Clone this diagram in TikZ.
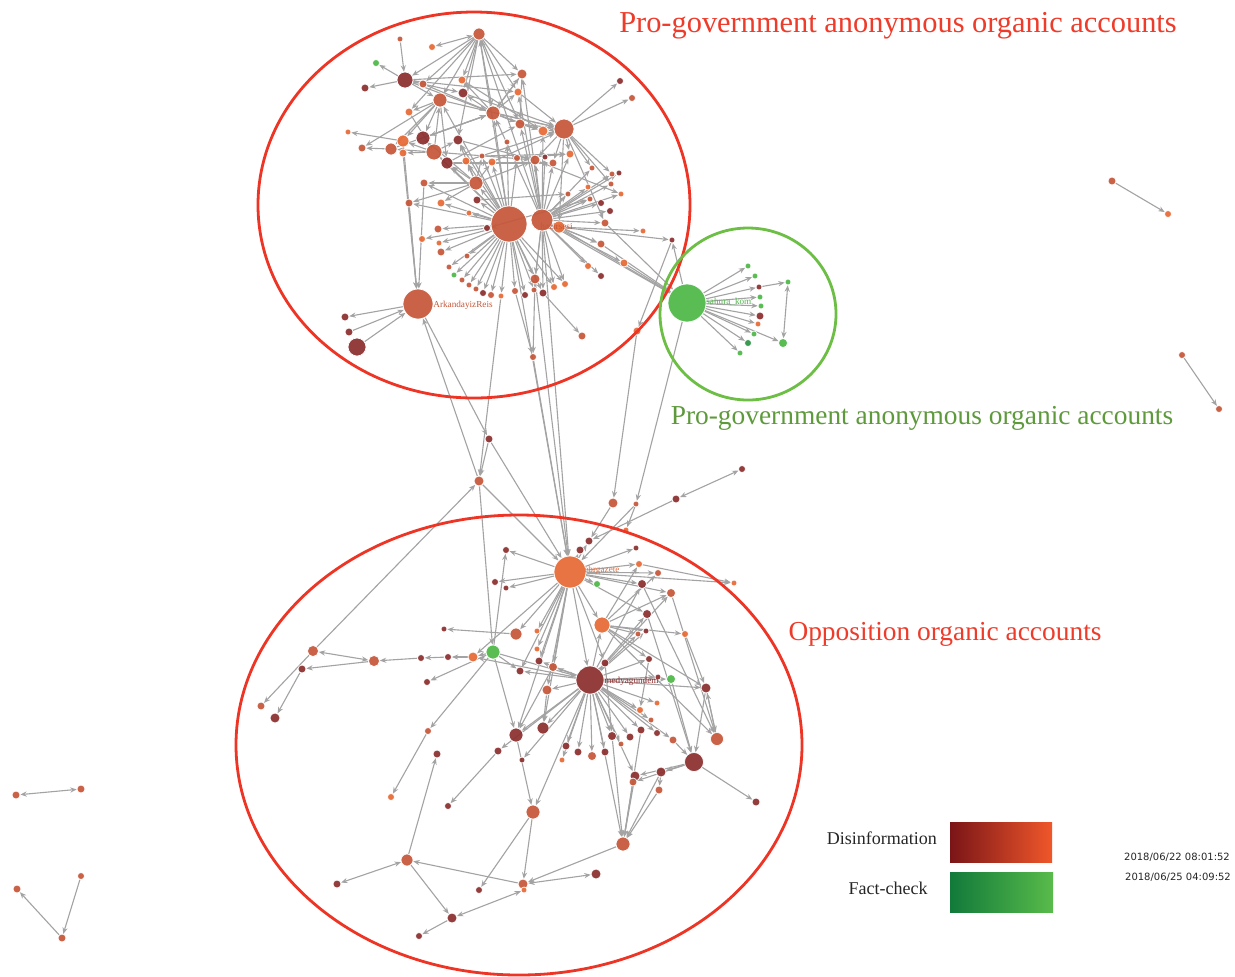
\documentclass[tikz,border=0pt]{standalone}
\usepackage{fontspec}
\setmainfont{Liberation Serif}
\newfontfamily\tsfont{DejaVu Sans}
\usetikzlibrary{arrows.meta}
\definecolor{cDark}{HTML}{8C2F2F}
\definecolor{cMid}{HTML}{C5573A}
\definecolor{cOr}{HTML}{E86A35}
\definecolor{cGr}{HTML}{4DB848}
\definecolor{cDG}{HTML}{2E9447}
\definecolor{cEdge}{HTML}{A3A3A3}
\definecolor{cRed}{HTML}{EE3424}
\definecolor{cGreenL}{HTML}{6DBE45}
\definecolor{cTitleR}{HTML}{EE3B2A}
\definecolor{cTitleG}{HTML}{5E9A3C}
\definecolor{dA}{HTML}{7A1517}
\definecolor{dB}{HTML}{C62F28}
\definecolor{dC}{HTML}{F0572A}
\definecolor{fA}{HTML}{117A3A}
\definecolor{fB}{HTML}{22B14C}
\definecolor{fC}{HTML}{58BB4A}
\pgfdeclarelayer{back}
\pgfdeclarelayer{edges}
\pgfsetlayers{back,edges,main}
\tikzset{
 nd/.style={circle, draw=white, line width=0.35pt, inner sep=0pt, fill opacity=0.93},
 dk/.style={nd, fill=cDark}, md/.style={nd, fill=cMid}, og/.style={nd, fill=cOr},
 gr/.style={nd, fill=cGr}, dg/.style={nd, fill=cDG},
 edge/.style={draw=cEdge, line width=0.55pt, -{Stealth[length=3.2pt,width=2.6pt]}},
 biedge/.style={draw=cEdge, line width=0.55pt, {Stealth[length=3.2pt,width=2.6pt]}-{Stealth[length=3.2pt,width=2.6pt]}},
 nlab/.style={anchor=west, font=\fontsize{4.6}{5}\selectfont, inner sep=0pt},
 title/.style={font=\fontsize{15.2}{17}\selectfont},
 subtitle/.style={font=\fontsize{13.7}{15}\selectfont},
}
\newcommand\gn[5]{\node[#5, minimum size=#4pt] (#1) at (#2,#3) {};}
\begin{document}
\begin{tikzpicture}[x=0.5pt,y=-0.5pt]
\useasboundingbox (0,0) rectangle (1235,976);
\begin{pgfonlayer}{back}
\fill[white] (0,0) rectangle (1235,976);
\end{pgfonlayer}
% ---------- top cluster nodes
\gn{t1}{479}{34}{6}{md}
\gn{t2}{400}{39}{3}{md}
\gn{t3}{432}{47}{3.5}{og}
\gn{t4}{376}{63}{3.5}{gr}
\gn{t5}{405}{80}{8}{dk}
\gn{t6}{423}{84}{4}{md}
\gn{t7}{462}{80}{4}{og}
\gn{t8}{522}{74}{5}{md}
\gn{t9}{365}{88}{4}{dk}
\gn{t10}{440}{100}{7}{md}
\gn{t11}{463}{93}{5}{dk}
\gn{t12}{518}{92}{4}{og}
\gn{t13}{493}{113}{7}{md}
\gn{t14}{409}{112}{4}{og}
\gn{t15}{520}{124}{5}{md}
\gn{t16}{543}{131}{5}{og}
\gn{t17}{564}{129}{10}{md}
\gn{t18}{348}{132}{3}{og}
\gn{t19}{403}{141}{6}{og}
\gn{t20}{423}{138}{7}{dk}
\gn{t21}{458}{140}{5}{dk}
\gn{t22}{362}{148}{4}{md}
\gn{t23}{391}{149}{6}{md}
\gn{t24}{403}{153}{4}{og}
\gn{t25}{434}{152}{8}{md}
\gn{t26}{447}{163}{6}{dk}
\gn{t27}{482}{156}{3}{md}
\gn{t28}{507}{142}{3}{md}
\gn{t29}{517}{158}{3.5}{md}
\gn{t30}{535}{160}{5}{md}
\gn{t31}{545}{157}{3}{dk}
\gn{t32}{553}{163}{4}{md}
\gn{t33}{466}{161}{4}{og}
\gn{t34}{492}{162}{4}{og}
\gn{t35}{476}{183}{7}{md}
\gn{t36}{570}{154}{4}{og}
\gn{t37}{592}{168}{3}{md}
\gn{t38}{612}{174}{3}{md}
\gn{t39}{619}{173}{3}{dk}
\gn{t40}{611}{184}{3}{md}
\gn{t41}{621}{194}{3}{og}
\gn{t42}{424}{183}{4}{md}
\gn{t43}{409}{203}{4}{md}
\gn{t44}{441}{203}{4}{og}
\gn{t45}{477}{200}{4}{dk}
\gn{t46}{469}{213}{3}{og}
\gn{t47}{588}{187}{3}{og}
\gn{t48}{568}{194}{3}{md}
\gn{t49}{590}{199}{3}{md}
\gn{t50}{601}{203}{3.5}{dk}
\gn{t51}{610}{211}{3.5}{dk}
\gn{tH}{509}{224}{18}{md}
\gn{tH2}{542}{220}{11}{md}
\gn{t52}{559}{227}{6}{og}
\gn{t53}{487}{228}{3.5}{dk}
\gn{t54}{438}{229}{4}{md}
\gn{t55}{422}{239}{3.5}{og}
\gn{t56}{439}{243}{3}{og}
\gn{t57}{441}{252}{4}{md}
\gn{t58}{605}{223}{4}{md}
\gn{t59}{643}{231}{3}{og}
\gn{t60}{672}{240}{3}{dk}
\gn{t61}{601}{244}{4}{md}
\gn{t62}{467}{256}{3}{md}
\gn{t63}{449}{267}{3}{md}
\gn{t64}{454}{275}{3}{gr}
\gn{t65}{462}{280}{3}{md}
\gn{t66}{469}{285}{3}{md}
\gn{t67}{476}{289}{3}{md}
\gn{t68}{483}{293}{3.5}{dk}
\gn{t69}{491}{295}{3.5}{md}
\gn{t70}{501}{296}{3}{og}
\gn{t71}{515}{291}{3.5}{md}
\gn{t72}{525}{295}{3.5}{dk}
\gn{t73}{534}{290}{3}{md}
\gn{t74}{543}{293}{4}{dk}
\gn{t75}{554}{287}{3.5}{og}
\gn{t76}{565}{284}{3.5}{og}
\gn{t77}{535}{279}{5}{md}
\gn{t78}{588}{266}{3.5}{og}
\gn{t79}{601}{276}{3.5}{dk}
\gn{t80}{624}{263}{4}{og}
\gn{tA}{418}{304}{15}{md}
\gn{t81}{345}{317}{4}{dk}
\gn{t82}{349}{332}{4}{dk}
\gn{t83}{357}{347}{9}{dk}
\gn{t84}{533}{357}{3.5}{md}
\gn{t85}{582}{336}{4}{md}
\gn{t86}{637}{331}{4}{og}
\gn{t87}{620}{81}{3.5}{dk}
\gn{t88}{632}{98}{3.5}{md}
% ---------- green cluster
\gn{gG}{687}{303}{19}{gr}
\gn{g1}{748}{266}{3}{gr}
\gn{g2}{755}{276}{3}{gr}
\gn{g3}{759}{287}{3}{dk}
\gn{g4}{788}{282}{3}{gr}
\gn{g5}{760}{297}{3}{gr}
\gn{g6}{761}{306}{3}{gr}
\gn{g7}{760}{316}{4}{dk}
\gn{g8}{758}{324}{3}{og}
\gn{g9}{754}{334}{3}{gr}
\gn{g10}{748}{343}{3.5}{dg}
\gn{g11}{740}{353}{3}{gr}
\gn{g12}{783}{343}{4.5}{gr}
% ---------- bottom cluster
\gn{b1}{489}{439}{4}{dk}
\gn{b2}{479}{481}{5}{md}
\gn{b3}{742}{469}{3.5}{dk}
\gn{b4}{613}{503}{5}{md}
\gn{b5}{636}{504}{3}{md}
\gn{b6}{676}{499}{4}{dk}
\gn{b7}{626}{530}{3}{og}
\gn{b8}{589}{541}{4}{dk}
\gn{b9}{506}{550}{3.5}{dk}
\gn{b10}{580}{550}{4}{dk}
\gn{b11}{636}{548}{3}{dk}
\gn{bH}{570}{572}{16}{og}
\gn{b12}{639}{564}{3.5}{og}
\gn{b13}{658}{573}{3.5}{md}
\gn{b14}{734}{583}{3}{og}
\gn{b15}{495}{582}{3.5}{dk}
\gn{b16}{506}{588}{3}{dk}
\gn{b17}{597}{584}{3.5}{gr}
\gn{b18}{642}{584}{4.5}{dk}
\gn{b19}{671}{593}{4.5}{md}
\gn{b20}{647}{614}{4.5}{dk}
\gn{b21}{602}{625}{8}{og}
\gn{b22}{444}{629}{3}{dk}
\gn{b23}{516}{634}{6}{md}
\gn{b24}{537}{631}{3}{og}
\gn{b25}{638}{634}{3}{md}
\gn{b26}{646}{631}{3}{dk}
\gn{b27}{685}{634}{3.5}{og}
\gn{b28}{537}{649}{3}{og}
\gn{bG}{493}{652}{7}{gr}
\gn{b29}{473}{657}{5}{og}
\gn{b30}{448}{657}{3.5}{dk}
\gn{b31}{421}{658}{3.5}{dk}
\gn{b32}{374}{661}{5.5}{md}
\gn{b33}{313}{651}{5.5}{md}
\gn{b34}{302}{669}{4}{dk}
\gn{b35}{261}{706}{4}{md}
\gn{b36}{275}{718}{5}{dk}
\gn{b37}{539}{661}{4}{dk}
\gn{b38}{553}{667}{4.5}{md}
\gn{b39}{520}{671}{4}{dk}
\gn{b40}{605}{663}{4}{dk}
\gn{b41}{649}{659}{3.5}{dk}
\gn{bD}{590}{680}{14}{dk}
\gn{b42}{658}{677}{3}{dk}
\gn{b43}{671}{679}{4.5}{gr}
\gn{b44}{706}{688}{5}{dk}
\gn{b45}{427}{682}{3.5}{dk}
\gn{b46}{547}{690}{5}{md}
\gn{b47}{640}{710}{3.5}{og}
\gn{b48}{657}{703}{3}{og}
\gn{b49}{651}{720}{3}{md}
\gn{b50}{428}{731}{3.5}{md}
\gn{b51}{516}{735}{7}{dk}
\gn{b52}{543}{728}{6}{dk}
\gn{b53}{612}{736}{4.5}{dk}
\gn{b54}{630}{737}{4}{dk}
\gn{b55}{641}{730}{4}{dk}
\gn{b56}{657}{733}{3.5}{dk}
\gn{b57}{673}{740}{4}{md}
\gn{b58}{717}{739}{6.5}{md}
\gn{b59}{566}{746}{4}{dk}
\gn{b60}{578}{752}{4}{dk}
\gn{b61}{592}{756}{4.5}{md}
\gn{b62}{605}{752}{4}{dk}
\gn{b63}{621}{744}{3}{md}
\gn{b64}{498}{751}{4}{dk}
\gn{b65}{437}{754}{4}{dk}
\gn{b66}{522}{760}{3}{dk}
\gn{b67}{562}{760}{3}{og}
\gn{b68}{635}{776}{5}{dk}
\gn{b69}{633}{782}{4}{md}
\gn{b70}{661}{772}{5}{dk}
\gn{b71}{659}{790}{4}{md}
\gn{b72}{694}{762}{9.5}{dk}
\gn{b73}{756}{802}{4}{dk}
\gn{b74}{391}{797}{3.5}{og}
\gn{b75}{448}{806}{3.5}{dk}
\gn{b76}{533}{812}{7}{md}
\gn{b77}{623}{844}{7}{md}
\gn{b78}{407}{860}{6}{md}
\gn{b79}{337}{884}{4}{dk}
\gn{b80}{523}{884}{5}{md}
\gn{b81}{596}{874}{5}{dk}
\gn{b82}{479}{890}{3.5}{dk}
\gn{b83}{524}{890}{3}{og}
\gn{b84}{452}{918}{5}{dk}
\gn{b85}{419}{936}{3.5}{dk}
% ---------- isolated pairs
\gn{i1}{1112}{181}{4}{md}
\gn{i2}{1168}{214}{3.5}{og}
\gn{i3}{1182}{355}{3.5}{md}
\gn{i4}{1219}{409}{3.5}{md}
\gn{i5}{16}{795}{4}{md}
\gn{i6}{81}{789}{4}{md}
\gn{i7}{17}{889}{4}{md}
\gn{i8}{62}{938}{4}{md}
\gn{i9}{81}{876}{3.5}{md}
% ---------- node labels
\node[nlab, text=cMid] (lA) at (433,305) {ArkandayizReis};
\node[nlab, text=cMid] (lH) at (540,226) {hazirsesi};
\node[nlab, text=cGr] (lG) at (706,302) {sahura\_kom};
\node[nlab, text=cOr] (lB) at (584,570) {ebrgazete};
\node[nlab, text=cDark] (lD) at (604,681) {medyagundem};
% ---------- edges
\begin{pgfonlayer}{edges}
\foreach \q in {t62,t63,t64,t65,t66,t67,t68,t69,t70,t71,t72,t73,t74,t75,t76,t77,t57,t56,t55,t54,t53,t46,t44,t43,t42,t45,t35,t13,t25,t29,t28,t27,t34,t33,t26,t21,t10,t1}
  \draw[edge] (tH) -- (\q);
\foreach \q in {t36,t37,t38,t39,t40,t41,t47,t48,t49,t50,t51,t58,t61,t78,t79,t80,t30,t32,t16,t15,t31,t77,t73,t74,t75,t76,t12,t8,t1,t13}
  \draw[edge] (tH2) -- (\q);
\foreach \q in {t87,t88,t16,t37,t38,t58,t52,t30,t32,t40}
  \draw[edge] (t17) -- (\q);
\foreach \q in {t5,t8,t10,t13,t12,t7,t6,t11,t14,t15,t21}
  \draw[edge] (t1) -- (\q);
\foreach \q in {t4,t9,t6,t10,t13,t12,t8,t11}
  \draw[edge] (t5) -- (\q);
\foreach \q in {t14,t19,t20,t23,t22,t26,t17}
  \draw[edge] (t10) -- (\q);
\foreach \q in {t7,t11,t12,t15,t8,t16,t17,t20}
  \draw[edge] (t13) -- (\q);
\foreach \q in {t20,t26,t24,t21,t19,t23,t10,t30}
  \draw[edge] (t25) -- (\q);
\foreach \q in {t26,t21,t33,t34,t27,t42,t43,t44,t20,t30}
  \draw[edge] (t35) -- (\q);
\foreach \p/\q in {t19/t18,t23/t22,t8/t13,t8/t15,t15/t16,t15/t17,t2/t5,t29/t36,t52/t60,t52/t61,t52/t59,t19/tA,t43/tA,t24/tA,t42/tA,t82/tA,t83/tA,tA/t81,t77/t84,t71/t84,t74/t85,t61/gG,t80/gG,t58/gG,t52/gG,tH2/gG,gG/t60,t17/t36,t30/t41,t21/t30,t11/t17,t7/t16,t14/t25,t20/t13,t26/t15,t33/t17,t34/t17,t27/t36,t23/t13,t6/t13,t12/t17,t26/t32,t45/t48,t53/t49}
  \draw[edge] (\p) -- (\q);
\draw[biedge] (t3) -- (t1);
\foreach \q in {g1,g2,g3,g5,g6,g7,g8,g9,g10,g11,g12}
  \draw[edge] (gG) -- (\q);
\draw[edge] (g3) -- (g4);
\draw[biedge] (g4) -- (g12);
% inter-cluster
\foreach \p/\q in {tA/b1,b2/tA,t70/b2,tH/bH,t77/bH,tH2/bH,t84/bH,t86/b4,gG/b5,t60/t86}
  \draw[edge] (\p) -- (\q);
% bottom
\foreach \q in {b8,b9,b10,b11,b12,b13,b15,b16,b17,b18,b19,b20,b21,b23,b24,b28,b37,b38,b39,b40,bD,b46,b51,b52,b14,b29}
  \draw[edge] (bH) -- (\q);
\foreach \q in {b51,b52,b59,b60,b61,b62,b53,b54,b55,b63,b66,b67,b46,b76,b68,b77,b39,b37,b38,b40,b41,b42,b43,b44,b20,b18,b19,b26,b25,b21,b29,b47,b48,b49,b56,b57,b64}
  \draw[edge] (bD) -- (\q);
\foreach \q in {b25,b26,b27,b41,b19,b44,b58,b13}
  \draw[edge] (b21) -- (\q);
\foreach \p/\q in {b4/b8,b5/b7,b5/bH,b6/b8,b27/b44,b19/b58,b18/b58,b20/b72,b44/b58,b44/b72,b43/b72,b57/b72,b72/b73,b72/b70,b72/b68,b70/b77,b68/b77,b53/b77,b55/b77,b71/b77,b70/b71,b72/b69,b69/b77,bG/b29,b29/b30,b30/b31,b31/b32,b32/b34,b33/b35,b34/b36,bG/b45,bG/b50,bG/bD,bG/b39,bG/b51,bG/b9,b50/b74,b78/b65,b64/b75,b51/b76,b76/b82,b76/b80,b80/b78,b78/b84,b84/b85,b77/b80,b23/b22,b2/bG,b2/bH,b1/b2,b1/bH,b33/b2,b21/b12,b12/b14,b58/b44,b41/b47,b46/b52,b38/b51,b40/b53}
  \draw[edge] (\p) -- (\q);
\foreach \p/\q in {b3/b6,b32/b33,b78/b79,b80/b81,b83/b84,i5/i6}
  \draw[biedge] (\p) -- (\q);
\foreach \p/\q in {i1/i2,i3/i4,i8/i7,i9/i8}
  \draw[edge] (\p) -- (\q);
\end{pgfonlayer}
% ---------- group outlines
\draw[cRed, line width=1.4pt] (474,205) ellipse [x radius=108pt, y radius=96.5pt];
\draw[cGreenL, line width=1.4pt] (748,314) ellipse [x radius=44pt, y radius=43pt];
\draw[cRed, line width=1.4pt] (519,745) ellipse [x radius=141.5pt, y radius=115pt];
% ---------- titles
\node[title, text=cTitleR] (T1) at (898,26) {Pro-government anonymous organic accounts};
\node[subtitle, text=cTitleG] (T2) at (922,418) {Pro-government anonymous organic accounts};
\node[subtitle, text=cTitleR] (T3) at (945,634) {Opposition organic accounts};
% ---------- legend
\shade[left color=dA, middle color=dB, right color=dC] (950,822) rectangle (1052,862);
\shade[left color=fA, middle color=fB, right color=fC] (950,872) rectangle (1053,912);
\node[anchor=east, font=\fontsize{9}{10}\selectfont, text=black!85] (L1) at (944,838) {Disinformation};
\node[font=\fontsize{9}{10}\selectfont, text=black!85] (L2) at (888,888) {Fact-check};
\node[font=\tsfont\fontsize{5}{6}\selectfont, text=black!85] (ts1) at (1177,857) {2018/06/22 08:01:52};
\node[font=\tsfont\fontsize{5}{6}\selectfont, text=black!85] (ts2) at (1178,877) {2018/06/25 04:09:52};
\end{tikzpicture}
\end{document}
